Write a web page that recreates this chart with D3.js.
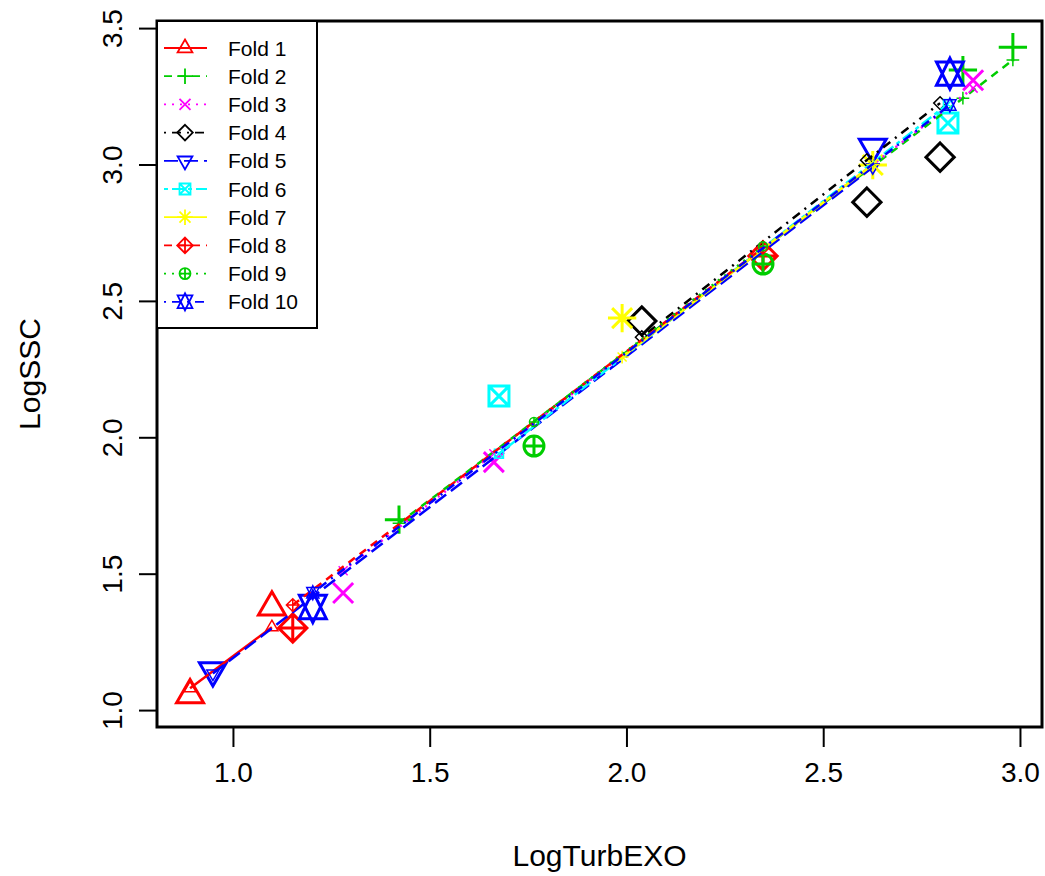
<!DOCTYPE html>
<html>
<head>
<meta charset="utf-8">
<script src="https://cdn.jsdelivr.net/npm/d3@7"></script>
<style>
  body { margin: 0; background: #fff; }
  text { font-family: "Liberation Sans", Arial, sans-serif; fill: #000; }
</style>
</head>
<body>
<script>
// folds, colours, symbols and line types
const folds = ["Fold 1", "Fold 2", "Fold 3", "Fold 4", "Fold 5", "Fold 6", "Fold 7", "Fold 8", "Fold 9", "Fold 10"];
const foldColors = ["#FF0000", "#00CD00", "#FF00FF", "#000000", "#0000FF", "#00FFFF", "#FFFF00", "#FF0000", "#00CD00", "#0000FF"];
const foldPch = [2, 3, 4, 5, 6, 7, 8, 9, 10, 11];
const foldDash = ["none", "8,6", "2,6", "2,6,9,6", "14,6", "4,4,12,4", "none", "8,6", "2,6", "2,6,9,6"];

// observed values (x = LogTurbEXO, y = LogSSC) and predicted LogSSC per fold
const obsX = [[0.891, 1.099], [1.422, 2.855, 2.982], [1.280, 1.663, 2.881], [2.039, 2.611, 2.797], [0.949, 2.626],
              [1.676, 2.817], [1.989, 2.626], [1.152, 2.347], [1.765, 2.347], [1.203, 2.822]];
const obsY = [[1.055, 1.377], [1.698, 3.346, 3.430], [1.429, 1.909, 3.309], [2.426, 2.862, 3.027], [1.145, 3.064],
              [2.151, 3.152], [2.437, 2.998], [1.301, 2.665], [1.968, 2.635], [1.378, 3.333]];
const predY = [[1.080, 1.304], [1.685, 3.243, 3.383], [1.511, 1.940, 3.280], [2.367, 3.016, 3.225], [1.134, 2.990],
               [1.940, 3.222], [2.294, 3.000], [1.385, 2.695], [2.056, 2.700], [1.430, 3.218]];

const xTicks = [1.0, 1.5, 2.0, 2.5, 3.0];
const yTicks = [1.0, 1.5, 2.0, 2.5, 3.0, 3.5];

const W = 1045, H = 876;
const box = {left: 157, right: 1042, top: 21, bottom: 727};

const x = d3.scaleLinear().domain([0.807, 3.056]).range([box.left, box.right]);
const y = d3.scaleLinear().domain([0.938, 3.526]).range([box.bottom, box.top]);

const svg = d3.select("body").append("svg").attr("width", W).attr("height", H);

// R style plotting symbols as path strings, u = base radius
function pchPath(pch, u) {
  const p = d3.path();
  const tri = (up) => {
    const r = 1.5551 * u, yc = 0.7776 * u, xc = 1.3468 * u, s = up ? -1 : 1;
    p.moveTo(0, s * r); p.lineTo(xc, -s * yc); p.lineTo(-xc, -s * yc); p.closePath();
  };
  const plus = (a) => { p.moveTo(-a, 0); p.lineTo(a, 0); p.moveTo(0, -a); p.lineTo(0, a); };
  const cross = (a) => { p.moveTo(-a, -a); p.lineTo(a, a); p.moveTo(-a, a); p.lineTo(a, -a); };
  const diamond = (a) => { p.moveTo(0, -a); p.lineTo(a, 0); p.lineTo(0, a); p.lineTo(-a, 0); p.closePath(); };
  switch (pch) {
    case 2: tri(true); break;
    case 3: plus(Math.SQRT2 * u); break;
    case 4: cross(u); break;
    case 5: diamond(Math.SQRT2 * u); break;
    case 6: tri(false); break;
    case 7: p.rect(-u, -u, 2 * u, 2 * u); cross(u); break;
    case 8: cross(u); plus(Math.SQRT2 * u); break;
    case 9: diamond(Math.SQRT2 * u); plus(Math.SQRT2 * u); break;
    case 10: p.moveTo(u, 0); p.arc(0, 0, u, 0, 2 * Math.PI); plus(u); break;
    case 11: {
      const r = 1.5551 * u, yc = 0.5 * (0.7776 * u + r), xc = 1.3468 * u;
      p.moveTo(0, -r); p.lineTo(xc, yc); p.lineTo(-xc, yc); p.closePath();
      p.moveTo(0, r); p.lineTo(xc, -yc); p.lineTo(-xc, -yc); p.closePath();
      break;
    }
  }
  return p.toString();
}

const plot = svg.append("g");

folds.forEach((f, i) => {
  const obs = obsX[i].map((v, j) => ({x: v, y: obsY[i][j]}));
  // observed points, large
  plot.selectAll(null).data(obs).enter().append("path")
    .attr("d", pchPath(foldPch[i], 10))
    .attr("transform", d => `translate(${x(d.x)},${y(d.y)})`)
    .attr("fill", "none").attr("stroke", foldColors[i]).attr("stroke-width", 3);
});

folds.forEach((f, i) => {
  const pred = obsX[i].map((v, j) => ({x: v, p: predY[i][j]})).sort((a, b) => a.x - b.x);
  // fitted line and predicted points, small
  plot.append("path")
    .attr("d", d3.line().x(d => x(d.x)).y(d => y(d.p))(pred))
    .attr("fill", "none").attr("stroke", foldColors[i]).attr("stroke-width", 2.5)
    .attr("stroke-dasharray", foldDash[i]);
  plot.selectAll(null).data(pred).enter().append("path")
    .attr("d", pchPath(foldPch[i], 4.5))
    .attr("transform", d => `translate(${x(d.x)},${y(d.p)})`)
    .attr("fill", "none").attr("stroke", foldColors[i]).attr("stroke-width", 1.5);
});

// box
svg.append("rect").attr("x", box.left).attr("y", box.top)
  .attr("width", box.right - box.left).attr("height", box.bottom - box.top)
  .attr("fill", "none").attr("stroke", "#000").attr("stroke-width", 3);

// axes
const xAxis = svg.append("g").attr("transform", `translate(0,${box.bottom})`)
  .call(d3.axisBottom(x).tickValues(xTicks).tickFormat(d3.format(".1f")).tickSize(20).tickPadding(10));
const yAxis = svg.append("g").attr("transform", `translate(${box.left},0)`)
  .call(d3.axisLeft(y).tickValues(yTicks).tickFormat(d3.format(".1f")).tickSize(18));
[xAxis, yAxis].forEach(a => {
  a.select(".domain").attr("stroke-width", 2);
  a.selectAll(".tick line").attr("stroke-width", 2);
  a.selectAll("text").style("font-family", "Liberation Sans, Arial, sans-serif").style("font-size", "28px");
});
xAxis.select(".domain").attr("d", `M${x(xTicks[0])},0H${x(xTicks[xTicks.length - 1])}`);
yAxis.select(".domain").attr("d", `M0,${y(yTicks[0])}V${y(yTicks[yTicks.length - 1])}`);
xAxis.selectAll(".tick text").attr("y", 55).attr("dy", null);
yAxis.selectAll(".tick text")
  .attr("x", null).attr("dy", null)
  .attr("text-anchor", "middle")
  .attr("transform", "translate(-35,0) rotate(-90)");

// axis titles
svg.append("text").attr("x", (box.left + box.right) / 2).attr("y", 866)
  .attr("text-anchor", "middle").style("font-size", "30px").text("LogTurbEXO");
svg.append("text").attr("transform", `translate(40,${(box.top + box.bottom) / 2}) rotate(-90)`)
  .attr("text-anchor", "middle").style("font-size", "30px").text("LogSSC");

// legend
const leg = svg.append("g");
leg.append("rect").attr("x", box.left).attr("y", box.top).attr("width", 160).attr("height", 307)
  .attr("fill", "#fff").attr("stroke", "#000").attr("stroke-width", 2);
const rows = leg.selectAll("g.row").data(folds).enter().append("g")
  .attr("class", "row").attr("transform", (d, i) => `translate(0,${48 + i * 28.2})`);
rows.append("line").attr("x1", 164).attr("x2", 207)
  .attr("stroke", (d, i) => foldColors[i]).attr("stroke-width", 1.8)
  .attr("stroke-dasharray", (d, i) => foldDash[i]);
rows.append("path").attr("d", (d, i) => pchPath(foldPch[i], 5.5))
  .attr("transform", "translate(185,0)")
  .attr("fill", "none").attr("stroke", (d, i) => foldColors[i]).attr("stroke-width", 1.8);
rows.append("text").attr("x", 228).attr("y", 7.5).style("font-size", "21px").text(d => d);
</script>
</body>
</html>
